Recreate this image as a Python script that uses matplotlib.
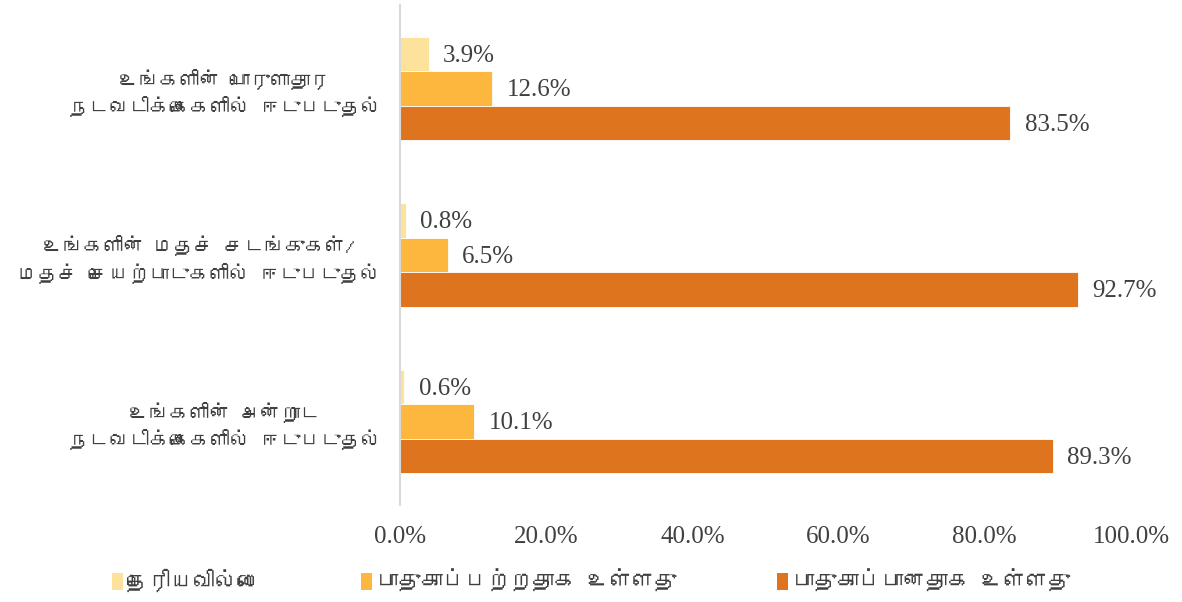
import matplotlib
matplotlib.use("Agg")
import matplotlib.pyplot as plt
from matplotlib import font_manager
from matplotlib.ft2font import FT2Font
from matplotlib.patches import Patch
import numpy as np

categories = [
    "உங்களின் பொருளாதார\nநடவடிக்கைகளில் ஈடுபடுதல்",
    "உங்களின் மதச் சடங்குகள்/\nமதச் செயற்பாடுகளில் ஈடுபடுதல்",
    "உங்களின் அன்றாட\nநடவடிக்கைகளில் ஈடுபடுதல்",
]
series_names = ["தெரியவில்லை", "பாதுகாப்பற்றதாக உள்ளது", "பாதுகாப்பானதாக உள்ளது"]
dont_know = [3.9, 0.8, 0.6]
unsafe = [12.6, 6.5, 10.1]
safe = [83.5, 92.7, 89.3]
xticks = [0, 20, 40, 60, 80, 100]

colors = ["#FCE29A", "#FDB73F", "#DE751E"]

# look for an installed font that can draw Tamil
tamil_font = None
for f in font_manager.fontManager.ttflist:
    try:
        if FT2Font(f.fname).get_char_index(ord("த")):
            tamil_font = f.name
            break
    except Exception:
        pass
tfam = [tamil_font, "DejaVu Sans"] if tamil_font else ["DejaVu Sans"]

serif = "Liberation Serif"
txt = "#404040"

fig = plt.figure(figsize=(11.82, 6.02), dpi=100)
ax = fig.add_axes([400 / 1182, 1 - 505 / 602, 731 / 1182, 500 / 602])

y = np.arange(len(categories))
h = 0.207
vals = [dont_know, unsafe, safe]
for i, (v, c) in enumerate(zip(vals, colors)):
    pos = y + (i - 1) * h
    ax.barh(pos, v, height=h, color=c, edgecolor="white", linewidth=0.6)
    for p, val in zip(pos, v):
        ax.text(val + 2, p + 0.01, f"{val:.1f}%", va="center", ha="left",
                fontsize=18, family=serif, color=txt)

ax.set_ylim(2.5, -0.5)
ax.set_xlim(0, 100)
ax.set_xticks(xticks)
ax.set_xticklabels([f"{t:.1f}%" for t in xticks], family=serif, fontsize=18, color=txt)
ax.set_yticks(y)
ax.set_yticklabels(categories, family=tfam, fontsize=14.5, color=txt, ha="right",
                   multialignment="center", linespacing=1.35)
ax.tick_params(axis="y", length=0, pad=14)
ax.tick_params(axis="x", length=0, pad=15)
for s in ["top", "right", "bottom"]:
    ax.spines[s].set_visible(False)
ax.spines["left"].set_color("#D9D9D9")
ax.spines["left"].set_linewidth(1.5)

handles = [Patch(facecolor=c, edgecolor="none") for c in colors]
fig.legend(handles, series_names, loc="center", bbox_to_anchor=(0.5, 0.036),
           ncol=3, frameon=False, handlelength=0.5, handleheight=0.8,
           handletextpad=0.2, columnspacing=4.5,
           prop={"family": tfam, "size": 16}, labelcolor=txt)

fig.savefig("out.png", dpi=100)
